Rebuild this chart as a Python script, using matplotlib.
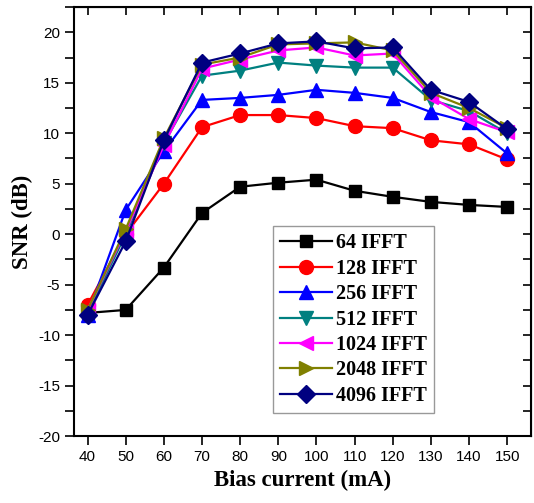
import matplotlib
matplotlib.use("Agg")
import matplotlib.pyplot as plt
from matplotlib.ticker import MultipleLocator

plt.rcParams["axes.unicode_minus"] = False

bias = [40, 50, 60, 70, 80, 90, 100, 110, 120, 130, 140, 150]

snr_64 = [-7.8, -7.5, -3.3, 2.1, 4.7, 5.1, 5.4, 4.3, 3.7, 3.2, 2.9, 2.7]
snr_128 = [-7.0, 0.0, 5.0, 10.6, 11.8, 11.8, 11.5, 10.7, 10.5, 9.3, 8.9, 7.4]
snr_256 = [-8.0, 2.4, 8.2, 13.3, 13.5, 13.8, 14.3, 14.0, 13.5, 12.1, 11.1, 8.0]
snr_512 = [-7.8, 0.0, 9.0, 15.7, 16.2, 17.0, 16.7, 16.5, 16.5, 13.3, 12.2, 10.0]
snr_1024 = [-7.5, 0.3, 8.8, 16.4, 17.3, 18.2, 18.5, 17.7, 17.9, 13.6, 11.4, 10.1]
snr_2048 = [-7.5, 0.5, 9.5, 16.8, 17.5, 18.8, 18.9, 19.0, 18.2, 14.0, 12.5, 10.5]
snr_4096 = [-8.0, -0.7, 9.3, 17.0, 17.9, 18.9, 19.1, 18.4, 18.5, 14.3, 13.1, 10.4]

labels = ["64 IFFT", "128 IFFT", "256 IFFT", "512 IFFT", "1024 IFFT", "2048 IFFT", "4096 IFFT"]
series = [snr_64, snr_128, snr_256, snr_512, snr_1024, snr_2048, snr_4096]
colors = ["black", "red", "blue", "#008080", "magenta", "#808000", "#000080"]
markers = ["s", "o", "^", "v", "<", ">", "D"]
msizes = [9, 10, 10, 10, 10, 10, 9]

fig = plt.figure(figsize=(5.34, 5.03), dpi=100)
ax = fig.add_axes([0.139, 0.133, 0.855, 0.853])

for y, lab, c, m, ms in zip(series, labels, colors, markers, msizes):
    ax.plot(bias, y, color=c, marker=m, markersize=ms, linewidth=1.6, label=lab)

ax.set_xlim(36.5, 156.2)
ax.set_ylim(-20, 22.5)
ax.xaxis.set_major_locator(MultipleLocator(10))
ax.yaxis.set_major_locator(MultipleLocator(5))
ax.yaxis.set_minor_locator(MultipleLocator(2.5))

for t in ax.get_xticklabels() + ax.get_yticklabels():
    t.set_fontfamily("Liberation Sans")
    t.set_fontsize(11)

ax.tick_params(axis="both", which="both", direction="out", length=6.5, width=1.2)
ax.tick_params(axis="x", which="minor", bottom=False, top=False)

# mirrored ticks pointing inward on top and right
top = ax.secondary_xaxis("top")
top.xaxis.set_major_locator(MultipleLocator(10))
top.tick_params(direction="in", length=6, width=1.2, labeltop=False)
right = ax.secondary_yaxis("right")
right.yaxis.set_major_locator(MultipleLocator(5))
right.yaxis.set_minor_locator(MultipleLocator(2.5))
right.tick_params(which="both", direction="in", length=6, width=1.2, labelright=False)

for s in ax.spines.values():
    s.set_linewidth(1.5)

ax.set_xlabel("Bias current (mA)", fontfamily="Liberation Serif", fontweight="bold", fontsize=16.5)
ax.set_ylabel("SNR (dB)", fontfamily="Liberation Serif", fontweight="bold", fontsize=16.5)

leg = ax.legend(loc="lower left", bbox_to_anchor=(0.435, 0.054), borderaxespad=0,
                fancybox=False, edgecolor="gray", handlelength=2.6, labelspacing=0.27,
                borderpad=0.35, handletextpad=0.2,
                prop={"family": "Liberation Serif", "weight": "bold", "size": 14.5})
leg.get_frame().set_linewidth(1.0)

fig.savefig("out.png", dpi=100)
